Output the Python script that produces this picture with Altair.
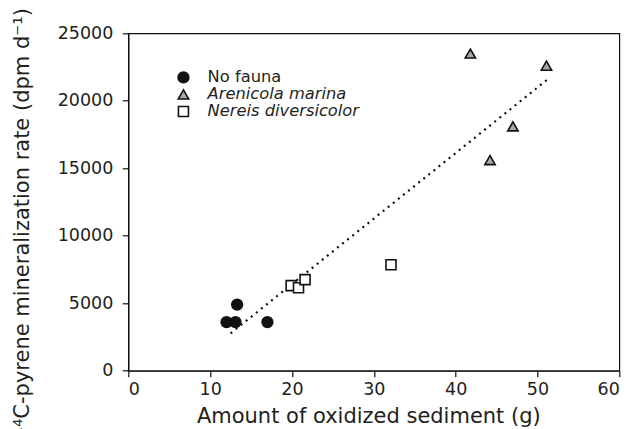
import altair as alt
import pandas as pd

# ---- data ----
groups = ["No fauna", "Arenicola marina", "Nereis diversicolor"]

nofauna_x = [12.0, 13.1, 13.3, 17.0]
nofauna_y = [3600, 3600, 4900, 3600]

arenicola_x = [41.8, 51.1, 47.0, 44.2]
arenicola_y = [23500, 22600, 18100, 15600]

nereis_x = [19.9, 20.8, 21.6, 32.1]
nereis_y = [6300, 6150, 6750, 7850]

x_ticks = [0, 10, 20, 30, 40, 50, 60]
y_ticks = [0, 5000, 10000, 15000, 20000, 25000]

shapes = ["circle", "triangle-up", "square"]
fills = ["#111111", "#a8a8a8", "#ffffff"]
strokes = ["#111111", "#111111", "#111111"]
sizes = [115, 100, 74]

rows = []
for g, xs, ys in zip(groups, [nofauna_x, arenicola_x, nereis_x], [nofauna_y, arenicola_y, nereis_y]):
    for xv, yv in zip(xs, ys):
        rows.append({"x": xv, "y": yv, "group": g})
df = pd.DataFrame(rows)

FONT = "DejaVu Sans"
TXT = "#231f20"

legend = alt.Legend(
    title=None,
    orient="none",
    legendX=47,
    legendY=36,
    padding=0,
    rowPadding=-2.5,
    labelOffset=16,
    labelFont=FONT,
    labelFontSize=16.3,
    labelColor=TXT,
    labelLimit=400,
    labelFontStyle={"expr": "datum.label == 'No fauna' ? 'normal' : 'italic'"},
    symbolStrokeWidth=1.6,
)

xenc = alt.X(
    "x:Q",
    scale=alt.Scale(domain=[0, 60], nice=False),
    axis=alt.Axis(
        values=x_ticks,
        title="Amount of oxidized sediment (g)",
        titleX=240,
        titleY=52.3,
        titleBaseline="alphabetic",
        labelPadding=4,
    ),
)
yenc = alt.Y(
    "y:Q",
    scale=alt.Scale(domain=[0, 25000], nice=False),
    axis=alt.Axis(
        values=y_ticks,
        format="d",
        title="¹⁴C-pyrene mineralization rate (dpm d⁻¹)",
        titleX=-99.8,
        titleY=188,
        titleBaseline="alphabetic",
        labelPadding=9.5,
    ),
)

points = alt.Chart(df).mark_point(
    filled=True, strokeWidth=1.6, opacity=1
).encode(
    x=xenc,
    y=yenc,
    shape=alt.Shape("group:N", scale=alt.Scale(domain=groups, range=shapes), legend=legend),
    fill=alt.Fill("group:N", scale=alt.Scale(domain=groups, range=fills), legend=legend),
    stroke=alt.Stroke("group:N", scale=alt.Scale(domain=groups, range=strokes), legend=legend),
    size=alt.Size("group:N", scale=alt.Scale(domain=groups, range=sizes), legend=legend),
)

trend = alt.Chart(df).transform_regression(
    "x", "y", extent=[12.5, 51.4]
).mark_line(
    color="#111111", strokeWidth=2.2, strokeDash=[2, 4.5]
).encode(x=xenc, y=yenc)

chart = alt.layer(trend, points).properties(
    width=491,
    height=337.4,
    autosize=alt.AutoSizeParams(type="none"),
    padding={"left": 120.3, "top": 25.3, "right": 9.7, "bottom": 58},
).configure_view(
    stroke="#111111", strokeWidth=1.2
).configure_axis(
    grid=False,
    domainColor="#111111",
    domainWidth=1.2,
    tickColor="#111111",
    tickSize=6,
    tickWidth=1.2,
    labelFont=FONT,
    labelFontSize=17.5,
    labelColor=TXT,
    titleFont=FONT,
    titleFontSize=21,
    titleFontWeight="normal",
    titleColor=TXT,
)

chart.save("out.html", embed_options={"renderer": "svg", "actions": False})
